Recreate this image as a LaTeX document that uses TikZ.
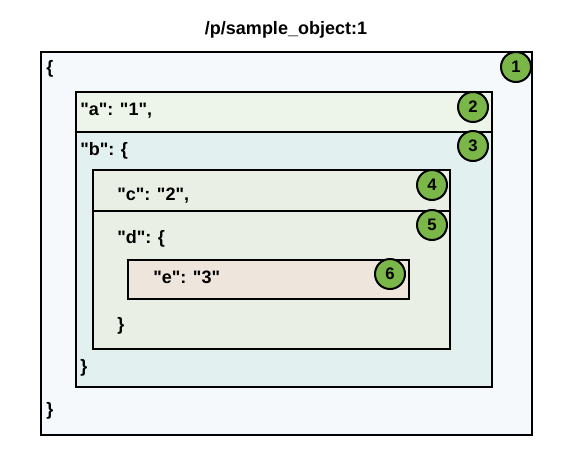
\documentclass[tikz,border=0pt]{standalone}
\usepackage{fontspec}
\newfontfamily\codefont{Liberation Sans}
\usetikzlibrary{positioning}
\definecolor{objfill}{HTML}{F5F9FC}
\definecolor{afill}{HTML}{EDF5EA}
\definecolor{bfill}{HTML}{E3F0F0}
\definecolor{cfill}{HTML}{E9EFE4}
\definecolor{efill}{HTML}{EEE6DD}
\definecolor{markgreen}{HTML}{7AB648}
\begin{document}
\begin{tikzpicture}[x=0.75pt,y=-0.75pt]
				\tikzset{box/.style = {shape=rectangle, draw, line width=1.5pt, inner sep=0pt, anchor=north west},
					badge/.style = {shape=circle, draw, line width=1.5pt, fill=markgreen, minimum size=22.5pt, inner sep=0pt, font=\codefont\fontsize{12.5}{14}\selectfont\bfseries},
					code/.style = {anchor=base west, inner sep=0pt, font=\codefont\fontsize{13.5}{16}\selectfont\bfseries}}
				\useasboundingbox (0,0) rectangle (571,472);
				\node[anchor=base, inner sep=0pt, font=\codefont\fontsize{13.5}{16}\selectfont\bfseries] (TITLE) at (286,34) {/p/sample\_object:1};
				% nested boxes
				\node[box, fill=objfill, minimum width=368.25pt, minimum height=287.25pt] (OBJ) at (40,51) {};
				\node[box, fill=afill, minimum width=312pt, minimum height=30pt] (A) at (75,91) {};
				\node[box, fill=bfill, minimum width=312pt, minimum height=191.25pt] (B) at (75,131) {};
				\node[box, fill=cfill, minimum width=267.75pt, minimum height=30.75pt] (C) at (92,169) {};
				\node[box, fill=cfill, minimum width=267.75pt, minimum height=103.5pt] (D) at (92,210) {};
				\node[box, fill=efill, minimum width=210.75pt, minimum height=29.25pt] (E) at (127,259) {};
				% json text
				\node[code] (OBJOPEN) at (46,73) {\{};
				\node[code] (AKEY) at (80,115) {"a": "1",};
				\node[code] (BKEY) at (80,155) {"b": \{};
				\node[code] (CKEY) at (117,200) {"c": "2",};
				\node[code] (DKEY) at (117,243) {"d": \{};
				\node[code] (EKEY) at (153,283) {"e": "3"};
				\node[code] (DCLOSE) at (117,330) {\}};
				\node[code] (BCLOSE) at (80,372) {\}};
				\node[code] (OBJCLOSE) at (46,415) {\}};
				% numbered badges
				\node[badge] (M1) at (516,67) {1};
				\node[badge] (M2) at (473,107) {2};
				\node[badge] (M3) at (473,146) {3};
				\node[badge] (M4) at (432,185) {4};
				\node[badge] (M5) at (432,225) {5};
				\node[badge] (M6) at (390,274) {6};
				\end{tikzpicture}
\end{document}
